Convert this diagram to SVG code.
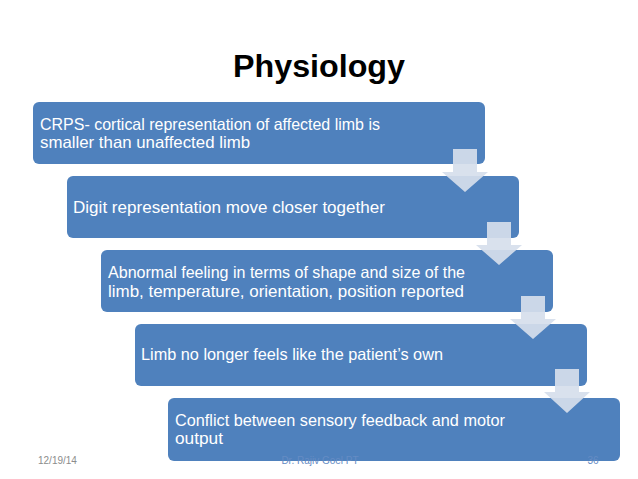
<svg xmlns="http://www.w3.org/2000/svg" width="638" height="479" viewBox="0 0 638 479">
<style>
.box{fill:#4f81bd;}
.t{font-family:"Liberation Sans",Arial,sans-serif;font-size:16.5px;fill:#ffffff;}
.arr{fill:#d6deeb;fill-opacity:0.92;}
.title{font-family:"Liberation Sans",Arial,sans-serif;font-size:32px;font-weight:bold;fill:#000000;}
.foot{font-family:"Liberation Sans",Arial,sans-serif;font-size:10px;fill:#8c8c8c;}
.footin{font-family:"Liberation Sans",Arial,sans-serif;font-size:10px;fill:#658cc4;}
</style>
<rect width="638" height="479" fill="#ffffff"/>
<text class="title" x="319" y="77" text-anchor="middle" textLength="172" lengthAdjust="spacingAndGlyphs">Physiology</text>
<g id="node1">
<rect class="box" x="33" y="102" width="452" height="62" rx="6"/>
<text class="t" x="40" y="130" textLength="340" lengthAdjust="spacingAndGlyphs">CRPS- cortical representation of affected limb is</text>
<text class="t" x="40" y="148" textLength="210" lengthAdjust="spacingAndGlyphs">smaller than unaffected limb</text>
</g>
<g id="node2">
<rect class="box" x="67" y="176" width="452" height="62" rx="6"/>
<text class="t" x="73" y="213" textLength="312" lengthAdjust="spacingAndGlyphs">Digit representation move closer together</text>
</g>
<g id="node3">
<rect class="box" x="101" y="250" width="452" height="62" rx="6"/>
<text class="t" x="108" y="278" textLength="357" lengthAdjust="spacingAndGlyphs">Abnormal feeling in terms of shape and size of the</text>
<text class="t" x="108" y="297" textLength="356" lengthAdjust="spacingAndGlyphs">limb, temperature, orientation, position reported</text>
</g>
<g id="node4">
<rect class="box" x="135" y="324" width="452" height="62" rx="6"/>
<text class="t" x="141" y="360" textLength="302" lengthAdjust="spacingAndGlyphs">Limb no longer feels like the patient’s own</text>
</g>
<g id="node5">
<rect class="box" x="168" y="398" width="452" height="63" rx="6"/>
<text class="t" x="175" y="426" textLength="330" lengthAdjust="spacingAndGlyphs">Conflict between sensory feedback and motor</text>
<text class="t" x="175" y="444" textLength="48" lengthAdjust="spacingAndGlyphs">output</text>
</g>
<g id="connectors">
<polygon class="arr" points="453,149 477,149 477,172 488,172 465,192 442,172 453,172"/>
<polygon class="arr" points="487,222 511,222 511,245 522,245 499,265 476,245 487,245"/>
<polygon class="arr" points="521,296 545,296 545,319 556,319 533,339 510,319 521,319"/>
<polygon class="arr" points="555,369 579,369 579,392 590,392 567,413 544,392 555,392"/>
</g>
<g id="footer">
<text class="foot" x="38" y="464">12/19/14</text>
<text class="footin" x="320" y="464" text-anchor="middle">Dr. Rajiv Goel PT</text>
<text class="footin" x="593" y="464" text-anchor="middle">36</text>
</g>
</svg>
